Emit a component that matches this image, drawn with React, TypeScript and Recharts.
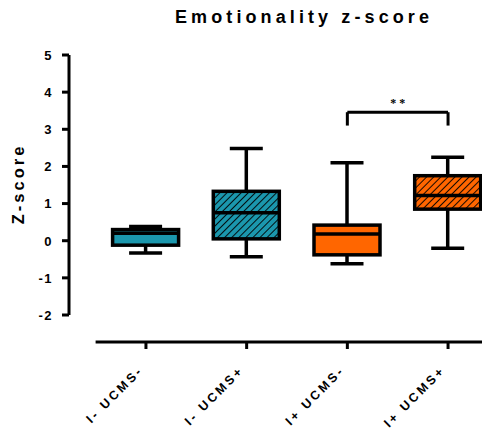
import { BarChart, Bar, XAxis, YAxis, ReferenceLine } from "recharts";

const groups = ["I- UCMS-", "I- UCMS+", "I+ UCMS-", "I+ UCMS+"];
const mins = [-0.33, -0.43, -0.62, -0.2];
const q1s = [-0.12, 0.05, -0.38, 0.85];
const medians = [0.2, 0.75, 0.18, 1.22];
const q3s = [0.3, 1.33, 0.42, 1.75];
const maxs = [0.38, 2.48, 2.1, 2.25];
const fills = ["#1b97ad", "#1b97ad", "#ff6600", "#ff6600"];
const hatched = [false, true, false, true];
const yTicks = [-2, -1, 0, 1, 2, 3, 4, 5];

const data = groups.map((name, i) => ({
  name,
  range: [mins[i], maxs[i]],
  min: mins[i],
  q1: q1s[i],
  med: medians[i],
  q3: q3s[i],
  max: maxs[i],
  fill: fills[i],
  hatched: hatched[i],
}));

const Y_SHIFT = -26.6;
const X_SHIFT = 27;
const FONT = "Arial, 'Liberation Sans', sans-serif";

function BoxShape(props: any) {
  const { x, y, width, height, payload, index } = props;
  const k = height / (payload.max - payload.min);
  const py = (v: number) => y + (payload.max - v) * k;
  const cx = x + width / 2;
  const cap = width / 4;
  const id = `hatch-${index}`;
  return (
    <g>
      <defs>
        <pattern id={id} width={5} height={5} patternUnits="userSpaceOnUse" patternTransform="rotate(45)">
          <line x1={0} y1={0} x2={0} y2={5} stroke="#000" strokeWidth={1.8} />
        </pattern>
      </defs>
      <line x1={cx} x2={cx} y1={py(payload.max)} y2={py(payload.q3)} stroke="#000" strokeWidth={3.5} />
      <line x1={cx} x2={cx} y1={py(payload.q1)} y2={py(payload.min)} stroke="#000" strokeWidth={3.5} />
      <line x1={cx - cap} x2={cx + cap} y1={py(payload.max)} y2={py(payload.max)} stroke="#000" strokeWidth={3.5} />
      <line x1={cx - cap} x2={cx + cap} y1={py(payload.min)} y2={py(payload.min)} stroke="#000" strokeWidth={3.5} />
      <rect x={x} y={py(payload.q3)} width={width} height={py(payload.q1) - py(payload.q3)} fill={payload.fill} />
      {payload.hatched && (
        <rect x={x} y={py(payload.q3)} width={width} height={py(payload.q1) - py(payload.q3)} fill={`url(#${id})`} />
      )}
      <rect x={x} y={py(payload.q3)} width={width} height={py(payload.q1) - py(payload.q3)} fill="none" stroke="#000" strokeWidth={3.5} />
      <line x1={x} x2={x + width} y1={py(payload.med)} y2={py(payload.med)} stroke="#000" strokeWidth={3.5} />
    </g>
  );
}

function YTick(props: any) {
  const { x, y, payload } = props;
  return (
    <text x={x + Y_SHIFT - 9} y={y} dy={4.8} textAnchor="end" fontSize={13} fontWeight="bold" letterSpacing={1.5} fill="#000" fontFamily={FONT}>
      {payload.value}
    </text>
  );
}

function XTick(props: any) {
  const { x, y, payload } = props;
  const tx = x - 2;
  const ty = y + X_SHIFT + 22;
  return (
    <text x={tx} y={ty} textAnchor="end" transform={`rotate(-45, ${tx}, ${ty})`} fontSize={12.5} fontWeight="bold" letterSpacing={2.8} fill="#000" fontFamily={FONT}>
      {payload.value}
    </text>
  );
}

function YLabel(props: any) {
  const { viewBox } = props;
  const cx = viewBox.x + 5;
  const cy = viewBox.y + viewBox.height / 2 - 1;
  return (
    <text x={cx} y={cy} dy={6} textAnchor="middle" transform={`rotate(-90, ${cx}, ${cy})`} fontSize={16.5} fontWeight="bold" letterSpacing={3} fill="#000" fontFamily={FONT}>
      Z-score
    </text>
  );
}

export default function App() {
  return (
    <div style={{ position: "relative", width: 482, height: 421, overflow: "hidden", background: "#fff" }}>
      <div
        style={{
          position: "absolute",
          left: 144,
          top: 0,
          width: 300,
          textAlign: "center",
          fontFamily: FONT,
          fontWeight: "bold",
          fontSize: 18,
          lineHeight: "18px",
          letterSpacing: 4.1,
          paddingLeft: 4.1,
          boxSizing: "border-box",
          color: "#000",
        }}
      >
        Emotionality z-score
      </div>
      <BarChart width={500} height={421} data={data} margin={{ top: 47, right: 9.6, bottom: 84, left: 5 }}>
        <YAxis
          domain={[-2, 5]}
          ticks={yTicks}
          interval={0}
          width={82.6}
          tickSize={7}
          tickMargin={0}
          axisLine={{ stroke: "#000", strokeWidth: 3, transform: `translate(${Y_SHIFT},0)` }}
          tickLine={{ stroke: "#000", strokeWidth: 3, transform: `translate(${Y_SHIFT},0)` }}
          tick={<YTick />}
          label={<YLabel />}
          allowDataOverflow
        />
        <XAxis
          dataKey="name"
          height={30}
          tickSize={7}
          tickMargin={0}
          interval={0}
          axisLine={{ stroke: "#000", strokeWidth: 3, transform: `translate(0,${X_SHIFT})` }}
          tickLine={{ stroke: "#000", strokeWidth: 3, transform: `translate(0,${X_SHIFT})` }}
          tick={<XTick />}
        />
        <Bar dataKey="range" barSize={66} shape={<BoxShape />} isAnimationActive={false} />
        <ReferenceLine
          segment={[{ x: "I+ UCMS-", y: 3.46 }, { x: "I+ UCMS+", y: 3.46 }]}
          stroke="#000"
          strokeWidth={3}
          label={{ value: "* *", position: "top", fill: "#000", fontSize: 12, fontWeight: "bold" }}
        />
        <ReferenceLine segment={[{ x: "I+ UCMS-", y: 3.46 }, { x: "I+ UCMS-", y: 3.1 }]} stroke="#000" strokeWidth={3} />
        <ReferenceLine segment={[{ x: "I+ UCMS+", y: 3.46 }, { x: "I+ UCMS+", y: 3.1 }]} stroke="#000" strokeWidth={3} />
      </BarChart>
    </div>
  );
}
